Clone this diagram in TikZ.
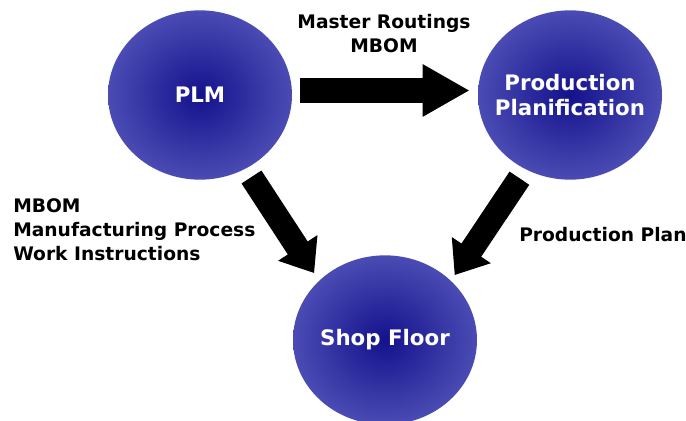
\documentclass[tikz,border=0pt]{standalone}
\usepackage{fontspec}
\setmainfont{DejaVu Sans}
\usetikzlibrary{shapes,arrows.meta}
\definecolor{blobdark}{RGB}{20,18,140}
\definecolor{bloblight}{RGB}{75,75,180}

\begin{document}
\begin{tikzpicture}[x=0.75pt,y=-0.75pt]
    \tikzstyle{blob}=[ellipse,minimum width=138pt,minimum height=127pt,inner sep=0pt,shading=radial,inner color=blobdark,outer color=bloblight]
    \tikzstyle{blobtext}=[text=white,font=\bfseries\fontsize{16}{18.4}\selectfont,align=center,inner sep=0pt]
    \tikzstyle{flowtext}=[font=\bfseries\fontsize{14}{18}\selectfont,inner sep=0pt]
    \tikzstyle{fatarrow}=[line width=19.2pt,-{Triangle[length=35.25pt,width=36.75pt]}]
    \tikzstyle{slantarrow}=[line width=17.8pt,-{Triangle[length=22.5pt,width=33.75pt]}]
    \useasboundingbox (0,0) rectangle (686,421);
    \node[blob] (plm) at (200,95) {};
    \node[blob] (planif) at (570,95) {};
    \node[blob] (shop) at (385,340) {};
    \node[blobtext] (plmtext) at (plm) {PLM};
    \node[blobtext] (planiftext) at (planif) {Production\\Planification};
    \node[blobtext] (shoptext) at (shop) {Shop Floor};
    \draw[fatarrow,shorten <=6pt,shorten >=6pt] ([yshift=3.4pt]plm.east) -- ([yshift=3.4pt]planif.west);
    \draw[slantarrow,shorten <=7.5pt,shorten >=6.75pt] (plm.-58) -- (shop.138);
    \draw[slantarrow,shorten <=8pt,shorten >=5pt] (planif.-121) -- (shop.42);
    \node[flowtext,align=center,anchor=north] (routing) at (384,14) {Master Routings\\MBOM};
    \node[flowtext,align=left,anchor=north west] (mfg) at (13,198) {MBOM\\Manufacturing Process\\Work Instructions};
    \node[flowtext,anchor=base west] (plan) at (519,241) {Production Plan};
\end{tikzpicture}
\end{document}
